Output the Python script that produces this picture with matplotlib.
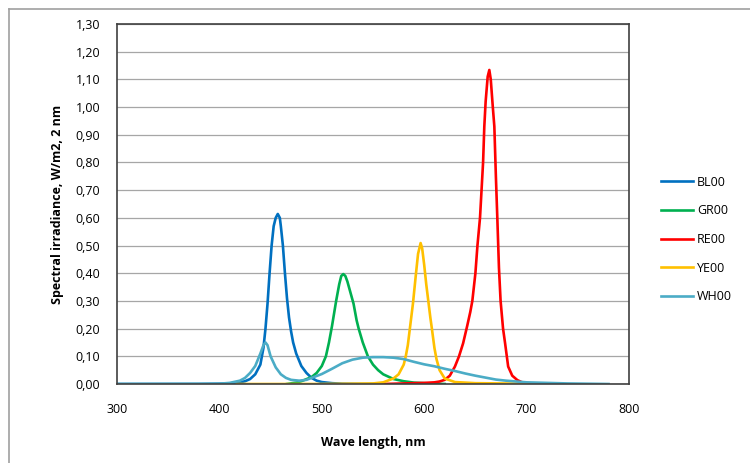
import matplotlib
matplotlib.use("Agg")
import matplotlib.pyplot as plt
from matplotlib.lines import Line2D

plt.rcParams['font.family'] = ['Open Sans', 'DejaVu Sans']

# wavelength (nm) / irradiance pairs
bl_x = [300, 380, 400, 410, 420, 425, 430, 435, 440, 443, 445, 447, 449, 451, 453, 455, 457,
        459, 460, 462, 464, 466, 468, 470, 472, 475, 480, 485, 490, 495, 500, 510, 520, 540, 560]
bl_y = [0, 0, 0.001, 0.002, 0.006, 0.01, 0.018, 0.035, 0.07, 0.13, 0.2, 0.29, 0.4, 0.5, 0.57, 0.6, 0.614,
        0.6, 0.57, 0.5, 0.4, 0.31, 0.24, 0.19, 0.15, 0.11, 0.065, 0.04, 0.022, 0.012, 0.007, 0.003, 0.001, 0, 0]

gr_x = [466, 475, 480, 490, 495, 500, 504, 507, 510, 514, 517, 519, 521, 523, 525, 528, 531,
        534, 536, 540, 545, 550, 555, 560, 570, 580, 590, 600, 620]
gr_y = [0, 0.005, 0.01, 0.025, 0.04, 0.065, 0.1, 0.15, 0.21, 0.3, 0.36, 0.39, 0.397, 0.39, 0.37, 0.33, 0.29,
        0.23, 0.2, 0.15, 0.1, 0.07, 0.05, 0.035, 0.018, 0.01, 0.005, 0.003, 0]

re_x = [560, 580, 600, 610, 615, 620, 625, 630, 634, 638, 642, 645, 647, 650, 652, 654.5, 656, 657.5,
        658.7, 660, 662, 663.6, 665, 667, 668.5, 670, 671.4, 673, 674.6, 677, 679, 682, 686, 691, 695, 700, 720]
re_y = [0, 0.002, 0.004, 0.006, 0.009, 0.015, 0.03, 0.063, 0.1, 0.147, 0.21, 0.26, 0.3, 0.4, 0.5, 0.6, 0.7, 0.8,
        0.93, 1.02, 1.11, 1.134, 1.1, 1.0, 0.93, 0.75, 0.6, 0.42, 0.3, 0.2, 0.147, 0.063, 0.03, 0.014, 0.007, 0.003, 0]

ye_x = [417, 500, 550, 560, 570, 575, 580, 582, 584, 586, 589, 592, 594, 596.5, 598, 600, 602,
        604, 606, 607.5, 610, 612, 615, 620, 630, 650, 700, 716]
ye_y = [0, 0, 0.002, 0.006, 0.02, 0.035, 0.07, 0.1, 0.14, 0.2, 0.29, 0.4, 0.47, 0.509, 0.49, 0.43, 0.36,
        0.3, 0.24, 0.2, 0.13, 0.09, 0.05, 0.02, 0.007, 0.003, 0.001, 0]

wh_x = [300, 400, 410, 420, 425, 430, 435, 440, 443, 445, 447, 450, 455, 460, 465, 470, 478, 485,
        490, 500, 510, 520, 530, 540, 550, 560, 570, 580, 590, 600, 610, 620, 630, 640, 650, 660,
        670, 680, 690, 700, 720, 740, 760, 780]
wh_y = [0, 0.001, 0.004, 0.012, 0.022, 0.04, 0.065, 0.11, 0.14, 0.15, 0.14, 0.1, 0.06, 0.035, 0.022, 0.015, 0.012, 0.015,
        0.022, 0.036, 0.055, 0.075, 0.088, 0.095, 0.097, 0.097, 0.095, 0.09, 0.08, 0.071, 0.064, 0.055, 0.047, 0.038, 0.03, 0.023,
        0.016, 0.012, 0.009, 0.006, 0.004, 0.002, 0.001, 0]

names = ["BL00", "GR00", "RE00", "YE00", "WH00"]
colors = ["#0070C0", "#00B050", "#FF0000", "#FFC000", "#4BACC6"]

fig = plt.figure(figsize=(7.5, 4.63), dpi=100)
# outer chart border
fig.add_artist(Line2D([9/750, 1], [1 - 9/463, 1 - 9/463], color="#A0A0A0", lw=1.2))
fig.add_artist(Line2D([9/750, 9/750], [0, 1 - 9/463], color="#A0A0A0", lw=1.2))

ax = fig.add_axes([117/750, 79/463, 512/750, 360/463])
series = [(bl_x, bl_y), (gr_x, gr_y), (re_x, re_y), (ye_x, ye_y), (wh_x, wh_y)]
for (xs, ys), n, c in zip(series, names, colors):
    ax.plot(xs, ys, color=c, lw=1.9, label=n, solid_joinstyle="round")

ax.set_xlim(300, 800)
ax.set_ylim(0, 1.3)
ax.set_xticks([300, 400, 500, 600, 700, 800])
yt = [i / 10 for i in range(14)]
ax.set_yticks(yt)
ax.set_yticklabels([f"{v:.2f}".replace(".", ",") for v in yt])
ax.tick_params(length=0, labelsize=9, colors="#000000", pad=12)
ax.tick_params(axis="x", pad=14)
ax.grid(axis="y", color="#A6A6A6", lw=0.9)
ax.set_axisbelow(True)
for s in ax.spines.values():
    s.set_color("#404040")
    s.set_linewidth(1.2)

ax.set_xlabel("Wave length, nm", fontsize=9, fontweight="bold", labelpad=14)
ax.set_ylabel("Spectral irradiance, W/m2, 2 nm", fontsize=9, fontweight="bold", labelpad=8)

ax.legend(loc="upper left", bbox_to_anchor=(1.04, 0.61), frameon=False, fontsize=9,
          handlelength=2.6, handletextpad=0.3, labelspacing=1.25)

fig.savefig("out.png", dpi=100)
